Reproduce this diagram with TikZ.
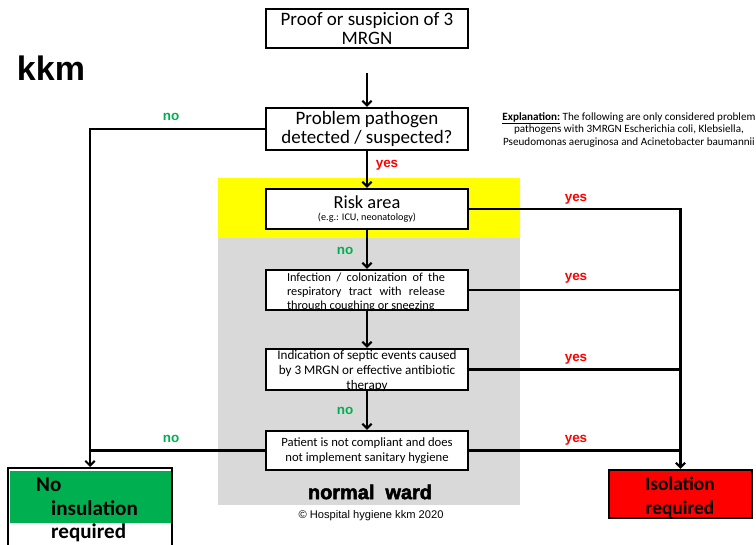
\documentclass[tikz,border=0pt]{standalone}
\usepackage{fontspec}
\setmainfont{Carlito}
\newfontfamily\arialfont{Liberation Sans}
\newfontfamily\heavyfont[FakeBold=2.5]{Liberation Sans Bold}
\usetikzlibrary{arrows.meta,positioning}
\definecolor{okgreen}{HTML}{00B050}
\definecolor{alertred}{HTML}{FF0000}
\definecolor{riskyellow}{HTML}{FFFF00}
\definecolor{wardgray}{HTML}{D9D9D9}
\tikzset{
  box/.style={draw,line width=1.8pt,fill=white,minimum width=6.06cm,inner sep=0pt,align=center},
  boxtxt/.style={inner sep=0pt,align=center},
  flow/.style={line width=1.8pt},
  arr/.style={flow,-{Straight Barb[length=4pt,width=8pt]}},
  yeslbl/.style={font=\arialfont\bfseries\fontsize{11.5}{12}\selectfont,text=alertred},
  nolbl/.style={font=\arialfont\bfseries\fontsize{11.5}{12}\selectfont,text=okgreen},
  restxt/.style={anchor=west,inner sep=0pt,font=\bfseries\fontsize{18}{20}\selectfont},
}

\begin{document}
\begin{tikzpicture}[x=0.03cm,y=-0.03cm]
\useasboundingbox (0,0) rectangle (756,545);
%Areas
\fill[riskyellow] (218,178) rectangle (520,238);
\fill[wardgray] (218,238) rectangle (520,505);
\node (ward) at (370,492) {\heavyfont\fontsize{17}{20}\selectfont normal\ \ ward};
\node (copy) at (371,516) {\arialfont\fontsize{9.5}{11}\selectfont \textcopyright\ Hospital hygiene kkm 2020};
\node (kkm) at (51,68) {\arialfont\bfseries\fontsize{29}{32}\selectfont kkm};
\node[font=\fontsize{9.5}{10.8}\selectfont,align=center] (expl) at (629,130)
  {\underline{\textbf{Explanation:}} The following are only considered problem\\
   pathogens with 3MRGN Escherichia coli, Klebsiella,\\
   Pseudomonas aeruginosa and Acinetobacter baumannii};

%Decision boxes
\node[box,minimum height=1.17cm,font=\fontsize{16.2}{16.4}\selectfont] (proof) at (367,28.5) {Proof or suspicion of 3\\MRGN};
\coordinate (start) at (367,73);
\node[box,minimum height=1.26cm,font=\fontsize{16.2}{15.6}\selectfont] (prob) at (367,129) {Problem pathogen\\detected / suspected?};
\node[box,minimum height=1.2cm] (risk) at (367,209)
  {{\fontsize{15.7}{16}\selectfont Risk area}\\[-1pt]{\fontsize{8.7}{9}\selectfont (e.g.: ICU, neonatology)}};
\node[box,minimum height=1.2cm] (inf) at (367,290) {};
\node[boxtxt,text width=4.74cm,align=justify,font=\fontsize{10.5}{12.1}\selectfont] (inftxt) at (366,292)
  {Infection / colonization of the\linebreak respiratory tract with release\linebreak through coughing or sneezing};
\node[box,minimum height=1.23cm] (ind) at (367,369.5) {};
\node[boxtxt,font=\fontsize{11.2}{12.8}\selectfont] (indtxt) at (367,371)
  {Indication of septic events caused\\by 3 MRGN or effective antibiotic\\therapy};
\node[box,minimum height=1.17cm,font=\fontsize{10.8}{12.5}\selectfont] (pat) at (367,450.5)
  {Patient is not compliant and does\\not implement sanitary hygiene};

%Results
\node[draw,line width=1.8pt,fill=alertred,minimum width=4.29cm,minimum height=1.44cm] (iso) at (680.5,494) {};
\node[boxtxt,font=\bfseries\fontsize{16.5}{20.4}\selectfont] (isotxt) at (680,497) {Isolation\\required};
\node[draw,line width=1.8pt,fill=white,minimum width=4.92cm,minimum height=2.8cm,anchor=north] (noiso) at (90,467) {};
\fill[okgreen] (9.5,471) rectangle (170.5,523);
\node[restxt] (notxt) at (36,485) {No};
\node[restxt] (insultxt) at (51,508) {insulation};
\node[restxt] (reqtxt) at (51,533) {required};

%Connectors
\draw[arr] (start) -- (prob);
\draw[arr] (prob) -- (risk);
\draw[arr] (risk) -- (inf);
\draw[arr] (inf) -- (ind);
\draw[arr] (ind) -- (pat);
\draw[arr] (risk.east) -| (iso.north);
\draw[flow] (inf.east) -- (inf.east -| iso.north);
\draw[flow] (ind.east) -- (ind.east -| iso.north);
\draw[flow] (pat.east) -- (pat.east -| iso.north);
\draw[arr] (prob.west) -| (noiso.north);
\draw[flow] (pat.west) -- (pat.west -| noiso.north);

%Labels
\node[yeslbl] (yes0) at (387,165) {yes};
\node[yeslbl] (yes1) at (576,199) {yes};
\node[yeslbl] (yes2) at (576,278) {yes};
\node[yeslbl] (yes3) at (576,359) {yes};
\node[yeslbl] (yes4) at (576,440) {yes};
\node[nolbl] (no0) at (171,117) {no};
\node[nolbl] (no1) at (345,251) {no};
\node[nolbl] (no2) at (345,411) {no};
\node[nolbl] (no3) at (171,439) {no};
\end{tikzpicture}
\end{document}
